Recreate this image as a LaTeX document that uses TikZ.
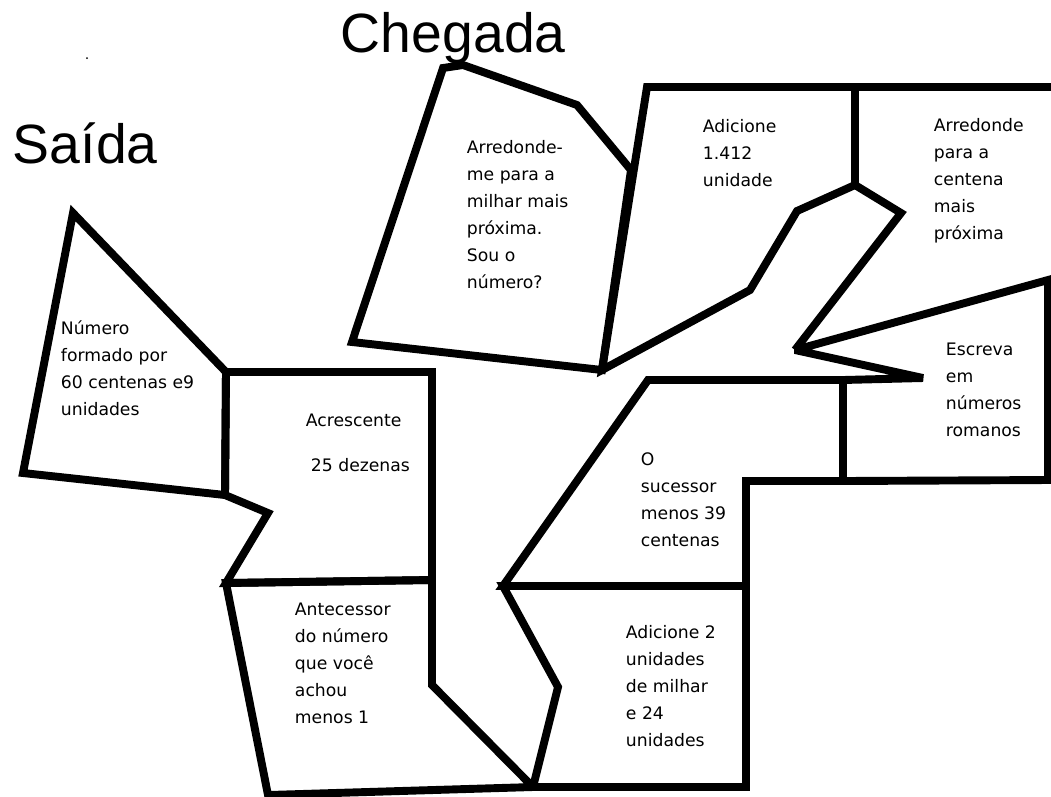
\documentclass[tikz,border=0pt]{standalone}
\usepackage{fontspec}
\newfontfamily\boxfont{DejaVu Sans}
\newfontfamily\titlefont{Liberation Sans}

\begin{document}
\begin{tikzpicture}[x = 0.02cm, y = -0.02cm, line width = 4.5pt, miter limit = 2.5,
    txt/.style = {anchor = north west, inner sep = 0pt, align = left, font = \boxfont\fontsize{9.8}{15.4}\selectfont},
    ttl/.style = {anchor = base west, inner sep = 0pt, font = \titlefont\fontsize{31.5}{36}\selectfont}]
            \useasboundingbox (0,0) rectangle (1051,796);
            \coordinate (A1) at (226,372); \coordinate (A2) at (432,372); \coordinate (A3) at (432,580);
            \coordinate (A4) at (226,583); \coordinate (A5) at (268,513); \coordinate (A6) at (225,495);
            \coordinate (S1) at (648,380); \coordinate (S2) at (843,380); \coordinate (S3) at (843,481);
            \coordinate (S4) at (746,481); \coordinate (S5) at (746,586); \coordinate (S6) at (503,586);
            \coordinate (B1) at (533,787); \coordinate (T1) at (795,350); \coordinate (T2) at (1048,280);
            \coordinate (M1) at (855,87); \coordinate (M2) at (855,185); \coordinate (M3) at (602,370);
            \draw (73,213) -- (A1) -- (A6) -- (23,473) -- cycle;
            \draw (A1) -- (A2) -- (A3) -- (A4) -- (A5) -- (A6) -- cycle;
            \draw (A4) -- (A3) -- (432,685) -- (B1) -- (268,795) -- cycle;
            \draw (S6) -- (S5) -- (746,787) -- (B1) -- (558,687) -- cycle;
            \draw (S1) -- (S2) -- (S3) -- (S4) -- (S5) -- (S6) -- cycle;
            \draw (S2) -- (923,378) -- (T1) -- (T2) -- (1048,480) -- (S3) -- cycle;
            \draw (1060,87) -- (M1) -- (M2) -- (901,213) -- (T1);
            \draw (647,87) -- (M1) -- (M2) -- (797,211) -- (750,290) -- (M3) -- cycle;
            \draw (443,68) -- (463,65) -- (577,105) -- (631,170) -- (M3) -- (352,342) -- cycle;
            \fill (87,58) circle (1);
            \node[ttl] (saida) at (9,163) {Saída};
            \node[ttl] (chegada) at (337,52) {Chegada};
            \node[txt] (numero) at (57,317) {Número\\formado por\\60 centenas e9\\unidades};
            \node[txt] (acresc) at (302,410) {Acrescente};
            \node[txt] (dezenas) at (307,454) {25 dezenas};
            \node[txt] (antec) at (291,599) {Antecessor\\do número\\que você\\achou\\menos 1};
            \node[txt] (arrmil) at (463,136) {Arredonde-\\me para a\\milhar mais\\próxima.\\Sou o\\número?};
            \node[txt] (adic) at (699,115) {Adicione\\1.412\\unidade};
            \node[txt] (arrcen) at (930,114) {Arredonde\\para a\\centena\\mais\\próxima};
            \node[txt] (escreva) at (942,339) {Escreva\\em\\números\\romanos};
            \node[txt] (suces) at (637,449) {O\\sucessor\\menos 39\\centenas};
            \node[txt] (adic2) at (622,621) {Adicione 2\\unidades\\de milhar\\e 24\\unidades};
            \end{tikzpicture}
\end{document}
